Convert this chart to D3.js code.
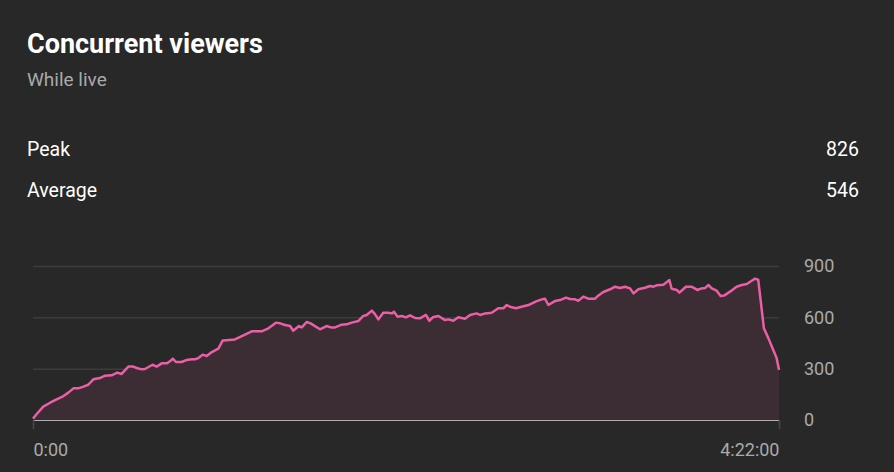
<!DOCTYPE html>
<html>
<head>
<meta charset="utf-8">
<script src="https://cdn.jsdelivr.net/npm/d3@7"></script>
<style>
  html, body { margin: 0; padding: 0; background: #282828; }
  body { width: 894px; height: 472px; overflow: hidden; font-family: Roboto, "Noto Sans", sans-serif; }
</style>
</head>
<body>
<script>
// minutes since stream start
var minutes = [
  0, 1.3, 3.6, 6.0, 8.3, 10.7, 12.4, 14.2, 15.9, 17.7, 19.4, 21.2, 23.5, 25.3, 27.6, 29.6,
  31.1, 33.5, 35.2, 36.4, 38.2, 39.3, 42.0, 43.4, 45.2, 47.0, 48.1, 49.1, 50.2, 52.2, 54.0,
  55.7, 56.9, 58.1, 59.6, 61.0, 62.8, 65.1, 66.6, 68.0, 70.9, 73.9, 76.8, 80.3, 82.7, 85.3,
  86.8, 88.5, 90.3, 91.4, 93.4, 94.4, 96.1, 97.5, 100.8, 103.1, 104.9, 106.1, 108.4, 110.2,
  111.9, 114.3, 116.0, 117.2, 119.0, 120.1, 121.3, 123.0, 124.8, 126.0, 126.8, 128.0, 129.5,
  131.0, 132.4, 134.2, 135.9, 138.0, 139.2, 140.4, 142.4, 144.7, 145.9, 147.6, 149.4, 151.7,
  153.5, 155.8, 157.0, 158.8, 161.1, 163.4, 165.2, 166.4, 167.5, 169.6, 171.6, 174.0, 176.9,
  178.7, 179.8, 181.0, 183.3, 185.1, 187.2, 188.6, 190.4, 191.5, 193.3, 195.0, 197.4, 198.6,
  200.3, 202.7, 204.4, 206.2, 207.9, 209.7, 210.9, 212.6, 214.9, 216.7, 217.9, 219.0, 221.4,
  223.5, 224.3, 226.1, 227.0, 229.3, 231.3, 233.3, 234.8, 236.0, 237.2, 238.4, 240.1, 241.5,
  242.7, 244.8, 247.1, 248.9, 250.7, 252.4, 253.6, 254.7, 256.7, 258.3, 260.0, 261.2, 262
];
var viewers = [
  8, 35, 78, 101, 121, 140, 160, 185, 185, 195, 206, 238, 245, 259, 261, 277,
  269, 312, 312, 304, 296, 298, 323, 312, 331, 331, 343, 358, 339, 339, 351,
  355, 355, 362, 382, 374, 397, 417, 464, 466, 471, 495, 518, 518, 536, 569,
  565, 555, 549, 522, 549, 541, 573, 565, 530, 549, 540, 541, 557, 559,
  569, 579, 608, 614, 639, 619, 588, 627, 627, 623, 633, 604, 608,
  600, 612, 596, 594, 614, 580, 600, 608, 584, 588, 580, 600, 592,
  614, 623, 614, 623, 627, 653, 653, 672, 662, 653, 662, 672, 695,
  705, 709, 672, 695, 701, 715, 707, 705, 697, 721, 709, 709, 728,
  748, 764, 779, 771, 779, 769, 740, 764, 773, 783, 779, 787, 791,
  818, 767, 760, 744, 779, 779, 760, 769, 771, 789, 769, 756, 725,
  727, 750, 779, 789, 795, 814, 826, 820, 536, 477, 409, 360, 292
];

var yTicks = [0, 300, 600, 900];
var xTickValues = [0, 262];
var xTickLabels = ['0:00', '4:22:00'];

var statLabels = ['Peak', 'Average'];
var statValues = ['826', '546'];

var width = 894, height = 472;
var plot = {left: 33, right: 779, top: 266, bottom: 420};

var svg = d3.select('body').append('svg')
            .attr('width', width)
            .attr('height', height);

// Header
svg.append('text')
  .attr('x', 27).attr('y', 53)
  .style('fill', '#ffffff')
  .style('font-size', '27px')
  .style('font-weight', 'bold')
  .text('Concurrent viewers');

svg.append('text')
  .attr('x', 27).attr('y', 86)
  .style('fill', '#aaaaaa')
  .style('font-size', '19px')
  .text('While live');

// Peak / Average rows
var stats = svg.append('g');
stats.selectAll('text.label')
  .data(statLabels)
  .enter()
  .append('text')
    .attr('class', 'label')
    .attr('x', 27)
    .attr('y', function(d, i){ return 156 + i * 41; })
    .style('fill', '#ffffff')
    .style('font-size', '19.5px')
    .text(function(d){ return d; });

stats.selectAll('text.value')
  .data(statValues)
  .enter()
  .append('text')
    .attr('class', 'value')
    .attr('x', 859)
    .attr('y', function(d, i){ return 156 + i * 41; })
    .style('fill', '#ffffff')
    .style('font-size', '19.5px')
    .style('text-anchor', 'end')
    .text(function(d){ return d; });

// Scales
var x = d3.scaleLinear().domain([0, 262]).range([plot.left, plot.right]);
var y = d3.scaleLinear().domain([0, 900]).range([plot.bottom, plot.top]);

var data = minutes.map(function(m, i){ return {t: m, v: viewers[i]}; });

// Grid lines
var grid = svg.append('g')
  .attr('transform', 'translate(' + plot.left + ',0)')
  .call(d3.axisLeft(y).tickValues(yTicks.slice(1)).tickSize(-(plot.right - plot.left)).tickFormat(''));
grid.select('.domain').remove();
grid.selectAll('line').style('stroke', '#3c3c3c').style('stroke-width', 1.5);

// Area + line
svg.append('path')
  .datum(data)
  .attr('d', d3.area()
    .x(function(d){ return x(d.t); })
    .y0(y(0))
    .y1(function(d){ return y(d.v); }))
  .style('fill', '#3c2d34');

svg.append('path')
  .datum(data)
  .attr('d', d3.line()
    .x(function(d){ return x(d.t); })
    .y(function(d){ return y(d.v); }))
  .style('fill', 'none')
  .style('stroke', '#ec5ea5')
  .style('stroke-width', 2.5)
  .style('stroke-linejoin', 'round');

// Y axis labels on the right
var yAxis = svg.append('g')
  .attr('transform', 'translate(804,0)')
  .call(d3.axisRight(y).tickValues(yTicks).tickSize(0).tickPadding(0));
yAxis.select('.domain').remove();
yAxis.selectAll('text')
  .style('fill', '#aaaaaa')
  .style('font-size', '18px')
  .style('font-family', 'Roboto, sans-serif');

// X axis
var xAxis = svg.append('g')
  .attr('transform', 'translate(0,' + plot.bottom + ')')
  .call(d3.axisBottom(x).tickValues(xTickValues).tickSize(9).tickPadding(14)
    .tickFormat(function(d, i){ return xTickLabels[i]; }));
xAxis.select('.domain').style('stroke', '#b0b0b0').style('stroke-width', 1);
xAxis.selectAll('line').style('stroke', '#484848').style('stroke-width', 1.5);
xAxis.selectAll('text')
  .style('fill', '#aaaaaa')
  .style('font-size', '18px')
  .style('font-family', 'Roboto, sans-serif')
  .style('text-anchor', function(d, i){ return i === 0 ? 'start' : 'end'; });
</script>
</body>
</html>
